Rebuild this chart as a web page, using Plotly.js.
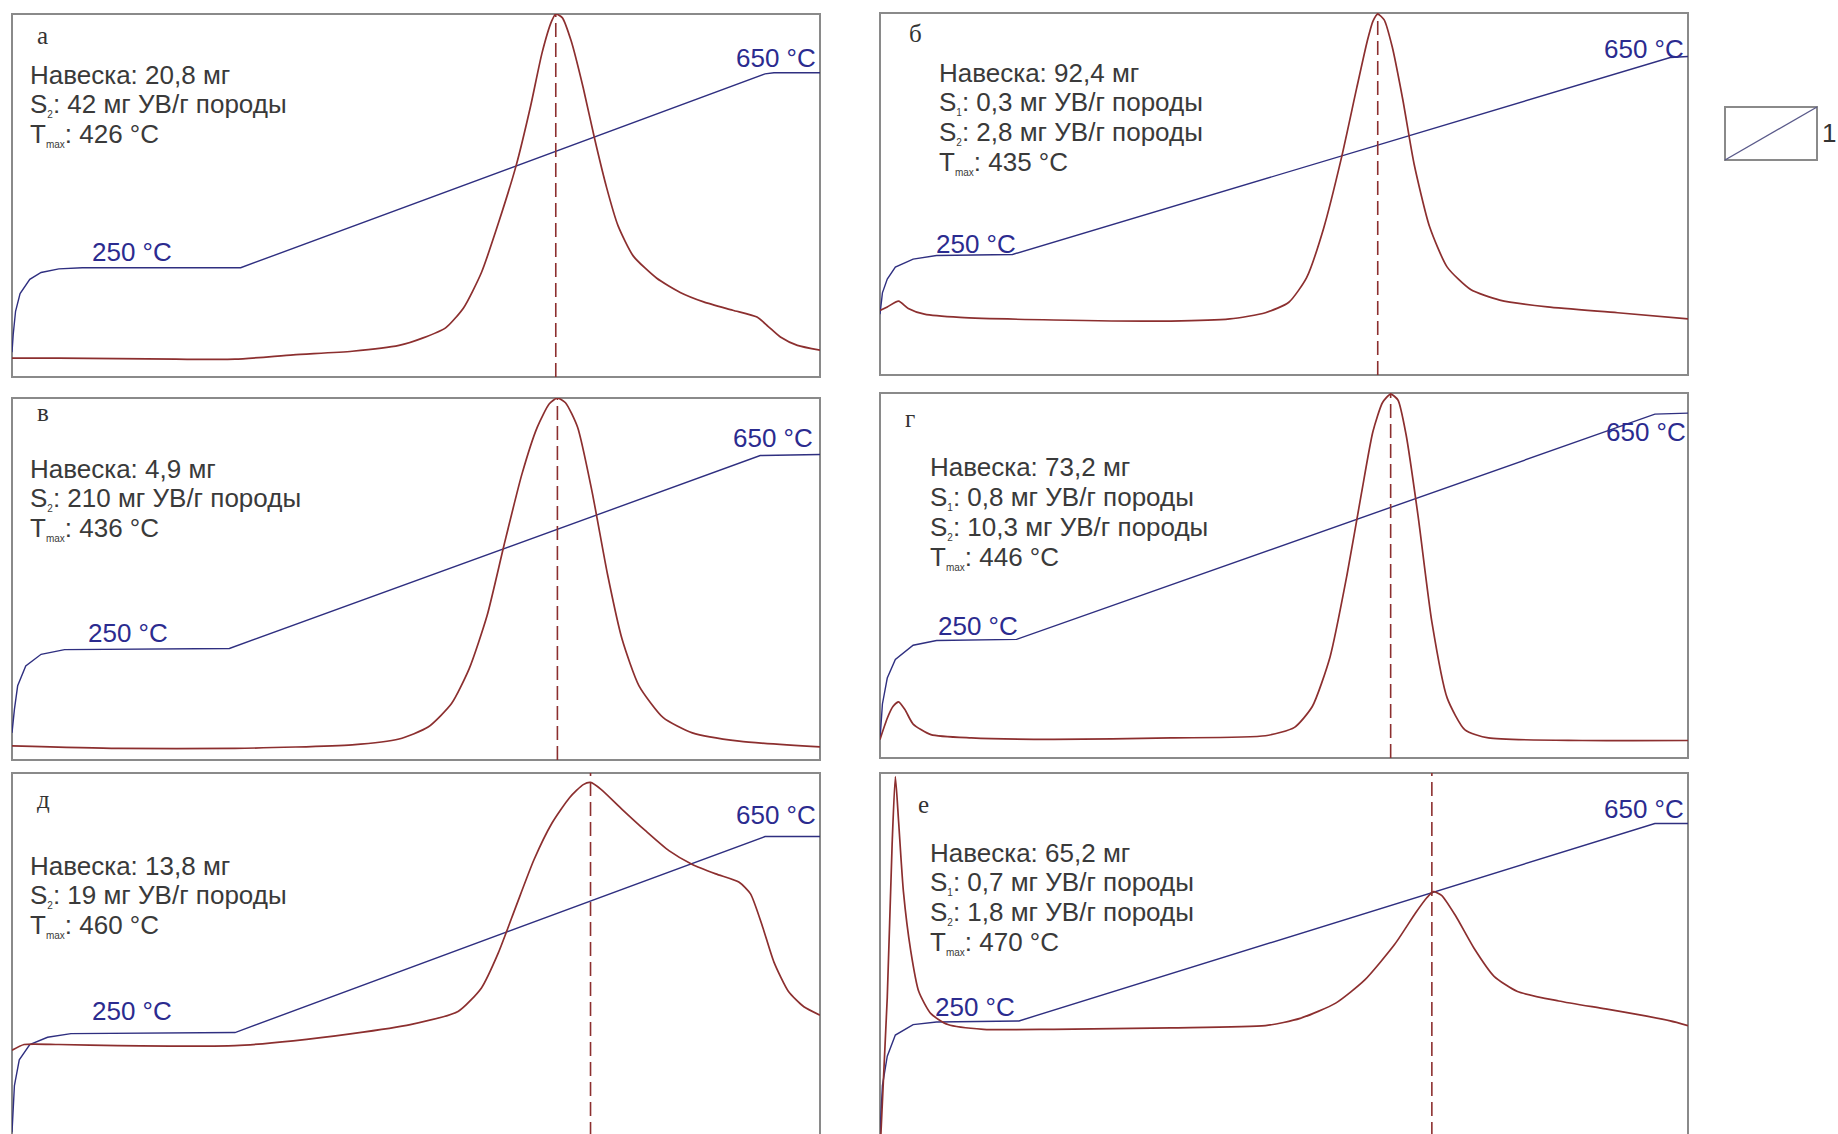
<!DOCTYPE html>
<html><head><meta charset="utf-8">
<script src="https://cdn.plot.ly/plotly-3.0.1.min.js"></script>
<style>html,body{margin:0;padding:0;background:#fff;} #chart{width:1838px;height:1134px;}</style>
</head><body><div id="chart"></div>
<script>
// x = time, % of the pyrolysis run; y = % of panel height
const panelLetters = ['а','б','в','г','д','е'];
const sampleMass = ['20,8','92,4','4,9','73,2','13,8','65,2'];
const s1Values = [null,'0,3',null,'0,8',null,'0,7'];
const s2Values = ['42','2,8','210','10,3','19','1,8'];
const tmaxValues = [426,435,436,446,460,470];
const tmaxTime = [67.3, 61.6, 67.5, 63.2, 71.6, 68.3];

// temperature programme (blue)
const tempX_a = [0,0.15,0.44,1.0,2.2,3.6,5.8,8.7,28.3,93.2,94.3,100];
const tempY_a = [6.8,11.7,18.1,23.0,26.9,28.8,29.8,30.1,30.1,83.5,83.8,83.8];
const tempX_b = [0,0.3,0.9,1.9,4.1,7.0,16.4,97.8,100];
const tempY_b = [16.8,22.7,26.5,29.8,32.0,33.0,33.3,87.7,88.0];
const tempX_v = [0,0.3,0.7,1.7,3.6,6.5,26.9,92.6,100];
const tempY_v = [7.5,14.0,20.5,26.0,29.2,30.5,30.8,84.1,84.4];
const tempX_g = [0,0.3,0.9,1.9,4.1,7.0,16.9,95.9,100];
const tempY_g = [5.1,14.8,21.9,27.0,30.9,32.2,32.5,94.2,94.5];
const tempX_d = [0,0.3,0.9,2.2,4.4,7.3,27.6,93.2,100];
const tempY_d = [1.0,13.9,21.0,25.2,27.2,28.2,28.5,82.5,82.5];
const tempX_e = [0,0.3,0.9,1.9,4.1,7.0,17.2,95.9,100];
const tempY_e = [1.0,13.9,22.0,27.8,30.7,31.4,31.7,86.1,86.1];

// FID signal (red)
const sigX_a = [0,5.8,20.3,27.6,34.8,42.1,47.9,50.8,53.7,55.9,58.1,60.2,62.4,64.2,65.6,66.8,67.3,68.1,69.2,70.7,72.1,73.6,75.0,76.9,79.8,82.7,85.6,89.2,92.2,93.6,95.1,97.2,100];
const sigY_a = [5.2,5.2,4.9,4.9,6.1,7.1,8.7,10.7,13.6,19.1,28.8,42.4,58.3,74.8,89.3,98.1,100,99.0,92.6,79.6,65.7,52.1,41.7,33.3,27.2,23.3,20.7,18.4,16.5,13.9,11.0,8.7,7.4];
const sigX_b = [0,0.9,2.3,3.5,5.5,9.9,21.5,36.0,43.3,47.7,50.6,52.8,54.9,57.1,59.0,60.3,61.0,61.6,62.4,63.4,64.7,66.1,68.0,70.2,73.1,76.7,82.6,91.3,100];
const sigY_b = [17.8,18.8,20.4,18.4,16.8,15.9,15.2,14.9,15.5,17.2,20.1,26.9,40.5,59.9,79.3,92.2,97.7,99.7,98.1,90.6,76.1,58.3,41.1,29.8,23.6,20.7,18.8,17.2,15.5];
const sigX_v = [0,13.1,27.6,42.1,47.9,51.5,54.4,56.6,58.8,60.9,63.1,65.0,66.5,67.5,68.5,70.0,71.8,73.7,75.5,77.6,80.6,84.2,90.0,100];
const sigY_v = [3.9,3.2,3.2,4.2,5.8,9.1,15.6,25.3,39.9,59.4,78.9,91.9,98.4,100,98.7,91.9,74.0,51.3,33.4,20.5,11.7,7.5,5.2,3.6];
const sigX_g = [0,0.9,1.6,2.3,3.1,4.1,6.3,11.3,21.5,36.0,47.7,51.3,53.5,55.7,57.8,59.6,61.0,62.2,63.2,64.1,65.1,66.6,68.3,70.2,72.4,75.3,86.9,100];
const sigY_g = [5.1,10.9,14.1,15.4,13.2,9.3,6.4,5.5,5.1,5.5,6.1,8.4,14.1,27.7,50.2,72.7,89.4,97.4,99.7,98.1,88.7,66.2,37.3,16.4,7.7,5.5,4.8,4.8];
const sigX_d = [0,1.5,5.8,13.1,27.6,34.8,42.1,49.3,55.2,58.1,60.2,62.4,64.6,66.8,69.0,70.7,71.6,72.9,75.5,78.4,81.3,84.2,87.1,90.0,91.4,92.9,94.3,96.1,98.0,100];
const sigY_d = [23.6,25.2,25.2,24.9,24.9,26.2,28.2,30.7,34.3,40.8,50.5,63.4,76.1,86.1,93.2,96.8,97.4,95.5,90.0,84.1,78.6,74.8,72.2,69.9,66.7,57.6,47.9,39.8,35.6,33.3];
const sigX_e = [0.1,0.9,1.5,1.9,2.3,2.9,3.8,4.8,6.3,8.4,12.8,21.5,36.0,47.7,52.0,56.4,60.0,63.7,66.3,67.7,68.5,69.5,71.2,73.5,76.0,78.9,84.0,89.8,94.9,97.8,100];
const sigY_e = [0,38.2,80.3,99.0,86.7,67.3,51.1,39.8,33.7,30.7,29.4,29.4,29.8,30.4,32.4,36.6,43.0,52.8,61.5,65.7,67.3,66.3,60.8,51.8,44.0,39.8,37.2,35.0,33.0,31.7,30.4];

const tempXs = [tempX_a,tempX_b,tempX_v,tempX_g,tempX_d,tempX_e];
const tempYs = [tempY_a,tempY_b,tempY_v,tempY_g,tempY_d,tempY_e];
const sigXs = [sigX_a,sigX_b,sigX_v,sigX_g,sigX_d,sigX_e];
const sigYs = [sigY_a,sigY_b,sigY_v,sigY_g,sigY_d,sigY_e];

// ---- layout (pixel boxes of panels: left, top, right, bottom) ----
const W = 1838, H = 1134;
const boxes = [[12,14,820,377],[880,13,1688,375],[12,398,820,760],[880,393,1688,758],[12,773,820,1136],[880,773,1688,1136]];
const letterPos = [[2.9,94.2],[3.3,94.2],[2.9,96.1],[2.9,92.9],[2.9,92.6],[4.5,91.3]];
const textPos = [[2.0,83.2],[7.1,83.5],[2.0,80.5],[5.9,79.7],[2.0,74.4],[5.9,78.0]];
const lbl250 = [[14.8,34.3],[11.9,36.2],[14.4,35.1],[12.1,36.3],[14.8,34.3],[11.8,35.6]];
const lbl650 = [[94.6,88.0],[94.6,90.0],[94.2,89.0],[94.8,89.4],[94.6,88.3],[94.6,90.0]];

const BLUE = '#2f2f80', BLUE_TXT = '#2b2b8f', RED = '#8c2f2f', GRAY = '#8a8a8a', TXT = '#3a3a3a';
const SANS = 'Liberation Sans, Arial, sans-serif', SERIF = 'Liberation Serif, Times New Roman, serif';
const sub = s => '<sub><span style="font-size:10px">' + s + '</span></sub>';

const data = [], annotations = [], shapes = [];
const layout = {width: W, height: H, margin: {l:0,r:0,t:0,b:0}, paper_bgcolor:'#fff', plot_bgcolor:'#fff', showlegend:false};

boxes.forEach((b, i) => {
  const n = i === 0 ? '' : String(i+1);
  const xa = 'x' + n, ya = 'y' + n;
  const spanH = b[3]-b[1];
  let y0 = 1 - b[3]/H, y1 = 1 - b[1]/H;
  let yr0 = 0;
  if (y0 < 0) { yr0 = (-y0*H)/spanH*100; y0 = 0; }
  layout['xaxis'+n] = {domain:[b[0]/W, b[2]/W], range:[0,100], visible:false, fixedrange:true};
  layout['yaxis'+n] = {domain:[y0, y1], range:[yr0,100], visible:false, fixedrange:true};

  data.push({x: tempXs[i], y: tempYs[i], xaxis: xa, yaxis: ya, mode:'lines', line:{color:BLUE, width:1.4}, hoverinfo:'skip'});
  data.push({x: [tmaxTime[i], tmaxTime[i]], y: [0, 100], xaxis: xa, yaxis: ya, mode:'lines', line:{color:RED, width:1.6, dash:'14px,6px'}, hoverinfo:'skip'});
  data.push({x: sigXs[i], y: sigYs[i], xaxis: xa, yaxis: ya, mode:'lines', line:{color:RED, width:1.7, shape:'spline', smoothing:0.6}, hoverinfo:'skip'});

  // frame
  const bottomOff = i >= 4 ? -0.05 : 0;
  shapes.push({type:'rect', xref: xa+' domain', yref: ya+' domain', x0:0, x1:1, y0:bottomOff, y1:1, line:{color:GRAY, width:2}, layer:'below'});

  annotations.push({xref:xa, yref:ya, x:letterPos[i][0], y:letterPos[i][1], text:panelLetters[i], showarrow:false, xanchor:'left', yanchor:'middle', font:{family:SERIF, size:25, color:'#333'}});
  const lines = ['Навеска: ' + sampleMass[i] + ' мг'];
  if (s1Values[i] !== null) lines.push('S' + sub('1') + ': ' + s1Values[i] + ' мг УВ/г породы');
  lines.push('S' + sub('2') + ': ' + s2Values[i] + ' мг УВ/г породы');
  lines.push('T' + sub('max') + ': ' + tmaxValues[i] + ' °C');
  const step = 30 / spanH * 100;
  lines.forEach((t, k) => {
    annotations.push({xref:xa, yref:ya, x:textPos[i][0], y:textPos[i][1] - k*step, text:t, showarrow:false, xanchor:'left', yanchor:'middle', font:{family:SANS, size:26, color:TXT}});
  });
  annotations.push({xref:xa, yref:ya, x:lbl250[i][0], y:lbl250[i][1], text:'250 °C', showarrow:false, xanchor:'center', yanchor:'middle', font:{family:SANS, size:26, color:BLUE_TXT}});
  annotations.push({xref:xa, yref:ya, x:lbl650[i][0], y:lbl650[i][1], text:'650 °C', showarrow:false, xanchor:'center', yanchor:'middle', font:{family:SANS, size:26, color:BLUE_TXT}});
});

// legend symbol "1"
const lg = [1725, 107, 1817, 160];
shapes.push({type:'rect', xref:'paper', yref:'paper', x0:lg[0]/W, x1:lg[2]/W, y0:1-lg[3]/H, y1:1-lg[1]/H, line:{color:GRAY, width:2}});
shapes.push({type:'line', xref:'paper', yref:'paper', x0:lg[0]/W, x1:lg[2]/W, y0:1-lg[3]/H, y1:1-lg[1]/H, line:{color:'#5a5a8a', width:1.4}});
annotations.push({xref:'paper', yref:'paper', x:1820/W, y:1-133/H, text:'1', showarrow:false, xanchor:'left', yanchor:'middle', font:{family:SANS, size:26, color:'#333'}});

layout.shapes = shapes;
layout.annotations = annotations;
Plotly.newPlot('chart', data, layout, {staticPlot:true, displayModeBar:false});
</script></body></html>
